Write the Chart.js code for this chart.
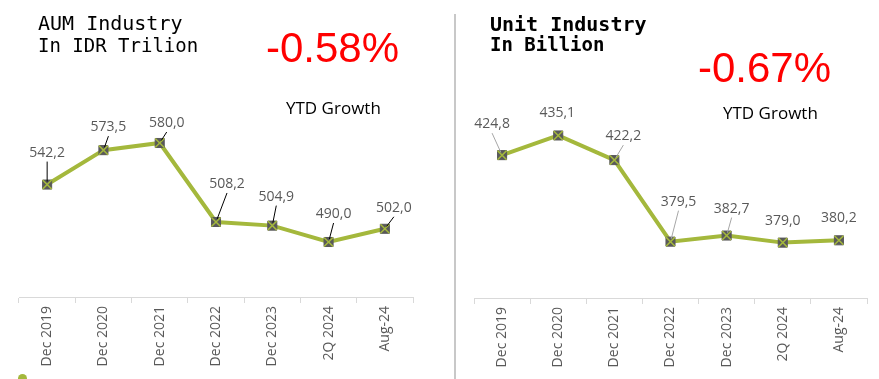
<!DOCTYPE html>
<html>
<head>
<meta charset="utf-8">
<script src="https://cdn.jsdelivr.net/npm/chart.js@4"></script>
<style>
  html, body { margin:0; padding:0; background:#fff; }
  body { width:879px; height:379px; position:relative; overflow:hidden; }
  .cv { position:absolute; top:0; }
  .t { position:absolute; white-space:nowrap; color:#000; }
  .mono { font-family:"DejaVu Sans Mono", monospace; }
  .pct { font-family:"Liberation Sans", Arial, sans-serif; font-size:42px; line-height:42px; color:#ff0000; }
  .ytd { font-family:"Open Sans", sans-serif; font-size:17px; line-height:17px; }
  #sep { position:absolute; left:454px; top:14px; width:2px; height:365px; background:#c8c8c8; }
  #dot { position:absolute; left:18px; top:374px; width:9px; height:9px; border-radius:50%; background:#a4b83c; }
</style>
</head>
<body>
<div id="sep"></div>
<div id="dot"></div>
<div class="cv" style="left:0;width:440px;height:379px;"><canvas id="c1"></canvas></div>
<div class="cv" style="left:440px;width:439px;height:379px;"><canvas id="c2"></canvas></div>

<div class="t mono" style="left:38px;top:13px;font-size:20px;line-height:20px;">AUM Industry</div>
<div class="t mono" style="left:38px;top:36px;font-size:19px;line-height:19px;">In IDR Trilion</div>
<div class="t mono" style="left:490px;top:14px;font-size:20px;line-height:20px;font-weight:bold;">Unit Industry</div>
<div class="t mono" style="left:490px;top:35px;font-size:19px;line-height:19px;font-weight:bold;">In Billion</div>

<div class="t pct" style="left:266px;top:27px;">-0.58%</div>
<div class="t pct" style="left:698px;top:47px;">-0.67%</div>
<div class="t ytd" style="left:286px;top:99px;">YTD Growth</div>
<div class="t ytd" style="left:723px;top:104px;">YTD Growth</div>

<script>
// ---- data ----
const categories = ["Dec 2019", "Dec 2020", "Dec 2021", "Dec 2022", "Dec 2023", "2Q 2024", "Aug-24"];
const aumValues  = [542.2, 573.5, 580.0, 508.2, 504.9, 490.0, 502.0];
const unitValues = [424.8, 435.1, 422.2, 379.5, 382.7, 379.0, 380.2];
const aumLabels  = ["542,2", "573,5", "580,0", "508,2", "504,9", "490,0", "502,0"];
const unitLabels = ["424,8", "435,1", "422,2", "379,5", "382,7", "379,0", "380,2"];

// label placement (offset from point, px) and whether a leader line is drawn
const aumLabelOffsets  = [[0,-32],[5,-23],[7,-20],[11,-38],[4,-29],[5,-28],[9,-21]];
const aumLeaders       = [true, true, true, true, true, true, true];
const unitLabelOffsets = [[-10,-31],[-1,-22],[9,-24],[8,-40],[5,-27],[0,-22],[0,-22]];
const unitLeaders      = [true, false, true, true, true, false, false];

const GREEN = '#a4b83c';
const MARK = '#595959';

function labelPlugin(labels, offsets, leaders, leaderColor) {
  return {
    id: 'dl',
    afterDatasetsDraw(chart) {
      const ctx = chart.ctx;
      const meta = chart.getDatasetMeta(0);
      ctx.save();
      meta.data.forEach((pt, i) => {
        const lx = pt.x + offsets[i][0];
        const ly = pt.y + offsets[i][1];
        if (leaders[i]) {
          const sx = lx, sy = ly + 9;
          const vx = sx - pt.x, vy = sy - pt.y;
          const len = Math.hypot(vx, vy);
          if (len > 6) {
            const ex = pt.x + vx / len * 3, ey = pt.y + vy / len * 3;
            ctx.beginPath();
            ctx.strokeStyle = leaderColor;
            ctx.lineWidth = 1;
            ctx.moveTo(sx, sy);
            ctx.lineTo(ex, ey);
            ctx.stroke();
          }
        }
        ctx.fillStyle = '#595959';
        ctx.font = '14px "Open Sans", sans-serif';
        ctx.textAlign = 'center';
        ctx.textBaseline = 'middle';
        ctx.fillText(labels[i], lx, ly);
      });
      ctx.restore();
    }
  };
}

function makeChart(id, values, yMin, yMax, pad, axisH, labels, offsets, leaders, leaderColor) {
  return new Chart(document.getElementById(id), {
    type: 'line',
    data: {
      labels: categories,
      datasets: [
        {
          data: values,
          borderColor: GREEN,
          borderWidth: 4,
          pointStyle: 'rect',
          pointRadius: 6.4,
          pointBackgroundColor: MARK,
          pointBorderColor: MARK,
          pointBorderWidth: 1,
          tension: 0,
          order: 1
        },
        {
          data: values,
          showLine: false,
          pointStyle: 'crossRot',
          pointRadius: 6.4,
          pointBorderColor: GREEN,
          pointBorderWidth: 1.5,
          order: 0
        }
      ]
    },
    options: {
      responsive: true,
      maintainAspectRatio: false,
      animation: false,
      events: [],
      layout: { padding: pad },
      plugins: { legend: { display: false }, tooltip: { enabled: false } },
      scales: {
        x: {
          offset: true,
          afterFit: (s) => { s.height = axisH; },
          border: { display: true, color: '#d9d9d9', width: 1 },
          grid: { display: true, drawOnChartArea: false, drawTicks: true, tickLength: 6, offset: true, color: '#d9d9d9' },
          ticks: {
            maxRotation: 90, minRotation: 90, padding: 3, autoSkip: false,
            color: '#595959', font: { family: '"Open Sans", sans-serif', size: 14 }
          }
        },
        y: { display: false, min: yMin, max: yMax }
      }
    },
    plugins: [labelPlugin(labels, offsets, leaders, leaderColor)]
  });
}

makeChart('c1', aumValues, 440, 600, { left: 19, right: 27, top: 121, bottom: 0 }, 82,
  aumLabels, aumLabelOffsets, aumLeaders, '#000000');
makeChart('c2', unitValues, 350, 450, { left: 34, right: 12, top: 107, bottom: 0 }, 81,
  unitLabels, unitLabelOffsets, unitLeaders, '#a6a6a6');
</script>
</body>
</html>
